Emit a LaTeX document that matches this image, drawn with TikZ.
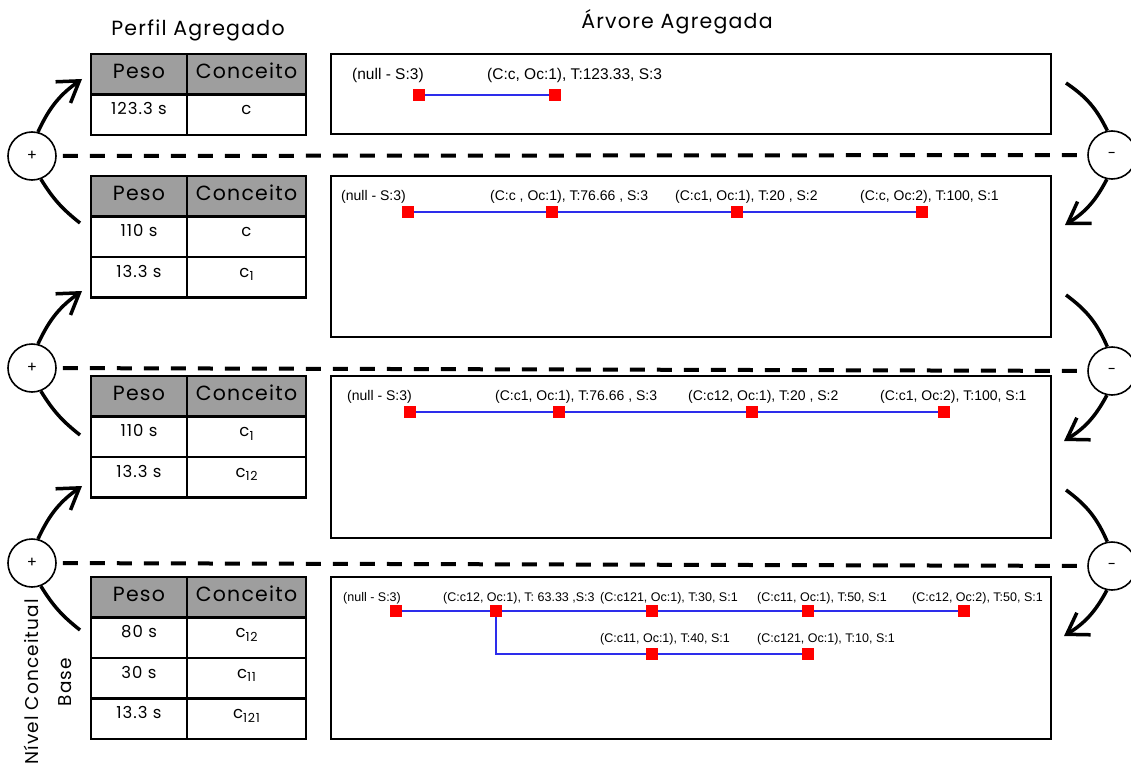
\documentclass[tikz,border=0pt]{standalone}
\usepackage{fontspec}
\setmainfont{Poppins}[LetterSpace=6]
\newfontfamily\treefont{Liberation Sans}
\usetikzlibrary{arrows.meta,positioning}

\definecolor{hdrgray}{RGB}{158,158,158}
\definecolor{linkblue}{RGB}{45,45,235}

\newcommand\idx[1]{\raisebox{-3.5pt}{\fontsize{12.5}{12.5}\selectfont #1}}

\tikzset{
  cellbase/.style={draw, line width=2.2pt, outer sep=0pt, inner sep=0pt, minimum height=40.5pt},
  wa/.style={minimum width=96pt},
  wb/.style={minimum width=119pt},
  hdr/.style={cellbase, fill=hdrgray, font=\fontsize{20.5}{24}\selectfont, text height=14pt, text depth=6pt},
  cell/.style={cellbase, font=\fontsize{16.5}{19}\selectfont, text height=11pt, text depth=11pt},
  panel/.style={draw, line width=2pt, inner sep=0pt, outer sep=0pt},
  leaf/.style={fill=red, minimum size=12pt, inner sep=0pt},
  tag/.style={anchor=base west, inner sep=0pt, font=\treefont\fontsize{#1}{#1}\selectfont},
  tag/.default=14,
  link/.style={linkblue, line width=1.2pt},
  divider/.style={line width=4pt, dash pattern=on 15pt off 12pt, shorten <=6pt, shorten >=3pt},
  opnode/.style={circle, draw, line width=1.6pt, minimum size=48pt, inner sep=0pt, fill=white, font=\fontsize{15}{15}\selectfont},
  bow/.style={line width=3.5pt},
  flow/.style={bow, -{Straight Barb[length=20pt, width=26pt]}}
}

\begin{document}
\begin{tikzpicture}[x=1pt, y=-1pt]
\useasboundingbox (0,0) rectangle (1131,765);

% titles
\node[font=\fontsize{20.5}{24}\selectfont] (ttab) at (198,30) {Perfil Agregado};
\node[font=\fontsize{20.5}{24}\selectfont] (ttree) at (677,22) {Árvore Agregada};
\node[rotate=90, align=center, font=\fontsize{18.5}{33}\selectfont] (lvl) at (48,682) {Nível Conceitual\\Base};

% profile tables
\node[hdr, wa] (h1a) at (139,74.25) {Peso};
\node[hdr, wb, right=0pt of h1a] (h1b) {Conceito};
\node[cell, wa, below=0pt of h1a] (r11a) {123.3 s};
\node[cell, wb, right=0pt of r11a] (r11b) {c};

\node[hdr, wa] (h2a) at (139,196.25) {Peso};
\node[hdr, wb, right=0pt of h2a] (h2b) {Conceito};
\node[cell, wa, below=0pt of h2a] (r21a) {110 s};
\node[cell, wb, right=0pt of r21a] (r21b) {c};
\node[cell, wa, below=0pt of r21a] (r22a) {13.3 s};
\node[cell, wb, right=0pt of r22a] (r22b) {c\idx{1}};

\node[hdr, wa] (h3a) at (139,396.25) {Peso};
\node[hdr, wb, right=0pt of h3a] (h3b) {Conceito};
\node[cell, wa, below=0pt of h3a] (r31a) {110 s};
\node[cell, wb, right=0pt of r31a] (r31b) {c\idx{1}};
\node[cell, wa, below=0pt of r31a] (r32a) {13.3 s};
\node[cell, wb, right=0pt of r32a] (r32b) {c\idx{12}};

\node[hdr, wa] (h4a) at (139,597.25) {Peso};
\node[hdr, wb, right=0pt of h4a] (h4b) {Conceito};
\node[cell, wa, below=0pt of h4a] (r41a) {80 s};
\node[cell, wb, right=0pt of r41a] (r41b) {c\idx{12}};
\node[cell, wa, below=0pt of r41a] (r42a) {30 s};
\node[cell, wb, right=0pt of r42a] (r42b) {c\idx{11}};
\node[cell, wa, below=0pt of r42a] (r43a) {13.3 s};
\node[cell, wb, right=0pt of r43a] (r43b) {c\idx{121}};

% tree panels
\node[panel, minimum width=720pt, minimum height=80pt] (t1) at (691,94) {};
\node[panel, minimum width=720pt, minimum height=161pt] (t2) at (691,256.5) {};
\node[panel, minimum width=720pt, minimum height=162pt] (t3) at (691,457) {};
\node[panel, minimum width=720pt, minimum height=162pt] (t4) at (691,658) {};

% level 1
\node[leaf] (a0) at (419,95) {};
\node[leaf] (a1) at (555,95) {};
\draw[link] (a0) -- (a1);
\node[tag=15.5] (la0) at (352,80) {(null - S:3)};
\node[tag=15.5] (la1) at (487,80) {(C:c, Oc:1), T:123.33, S:3};

% level 2
\node[leaf] (b0) at (408,212) {};
\node[leaf] (b1) at (552,212) {};
\node[leaf] (b2) at (737,212) {};
\node[leaf] (b3) at (922,212) {};
\draw[link] (b0) -- (b1) -- (b2) -- (b3);
\node[tag] (lb0) at (341,200) {(null - S:3)};
\node[tag] (lb1) at (490,200) {(C:c , Oc:1), T:76.66 , S:3};
\node[tag] (lb2) at (675,200) {(C:c1, Oc:1), T:20 , S:2};
\node[tag] (lb3) at (860,200) {(C:c, Oc:2), T:100, S:1};

% level 3
\node[leaf] (c0) at (410,412) {};
\node[leaf] (c1) at (559,412) {};
\node[leaf] (c2) at (752,412) {};
\node[leaf] (c3) at (944,412) {};
\draw[link] (c0) -- (c1) -- (c2) -- (c3);
\node[tag] (lc0) at (347,400) {(null - S:3)};
\node[tag] (lc1) at (495,400) {(C:c1, Oc:1), T:76.66 , S:3};
\node[tag] (lc2) at (688,400) {(C:c12, Oc:1), T:20 , S:2};
\node[tag] (lc3) at (880,400) {(C:c1, Oc:2), T:100, S:1};

% level 4 (base)
\node[leaf] (d0) at (396,611) {};
\node[leaf] (d1) at (496,611) {};
\node[leaf] (d2) at (652,611) {};
\node[leaf] (d3) at (808,611) {};
\node[leaf] (d4) at (964,611) {};
\node[leaf] (d5) at (652,654) {};
\node[leaf] (d6) at (808,654) {};
\draw[link] (d0) -- (d1) -- (d2) -- (d3) -- (d4);
\draw[link] (d1) |- (d5);
\draw[link] (d5) -- (d6);
\node[tag=12.5] (ld0) at (343,601) {(null - S:3)};
\node[tag=12.5] (ld1) at (443,601) {(C:c12, Oc:1), T: 63.33 ,S:3};
\node[tag=12.5] (ld2) at (600,601) {(C:c121, Oc:1), T:30, S:1};
\node[tag=12.5] (ld3) at (757,601) {(C:c11, Oc:1), T:50, S:1};
\node[tag=12.5] (ld4) at (912,601) {(C:c12, Oc:2), T:50, S:1};
\node[tag=12.5] (ld5) at (600,642) {(C:c11, Oc:1), T:40, S:1};
\node[tag=12.5] (ld6) at (757,642) {(C:c121, Oc:1), T:10, S:1};

% aggregation / disaggregation steps
\node[opnode] (p1) at (32,156) {+};
\node[opnode] (p2) at (32,368) {+};
\node[opnode] (p3) at (32,563) {+};
\node[opnode] (m1) at (1112,155) {-};
\node[opnode] (m2) at (1112,371) {-};
\node[opnode] (m3) at (1112,566) {-};

\draw[divider] (p1) -- (m1);
\draw[divider] (p2) -- (m2);
\draw[divider] (p3) -- (m3);

\coordinate (up1) at (82,79);
\coordinate (up2) at (82,291);
\coordinate (up3) at (82,486);
\coordinate (lo1) at (80,223);
\coordinate (lo2) at (80,435);
\coordinate (lo3) at (80,630);
\draw[flow] (p1.76) to[bend left=15] (up1);
\draw[flow] (p2.76) to[bend left=15] (up2);
\draw[flow] (p3.76) to[bend left=15] (up3);
\draw[bow] (p1.291) to[bend right=10] (lo1);
\draw[bow] (p2.291) to[bend right=10] (lo2);
\draw[bow] (p3.291) to[bend right=10] (lo3);

\coordinate (in1) at (1066,83);
\coordinate (in2) at (1066,295);
\coordinate (in3) at (1066,490);
\coordinate (out1) at (1065,225);
\coordinate (out2) at (1064,441);
\coordinate (out3) at (1064,636);
\draw[bow] (in1) to[bend left=15] (m1.101);
\draw[bow] (in2) to[bend left=15] (m2.101);
\draw[bow] (in3) to[bend left=15] (m3.101);
\draw[flow] (m1.258) to[bend left=15] (out1);
\draw[flow] (m2.258) to[bend left=15] (out2);
\draw[flow] (m3.258) to[bend left=15] (out3);
\end{tikzpicture}
\end{document}
